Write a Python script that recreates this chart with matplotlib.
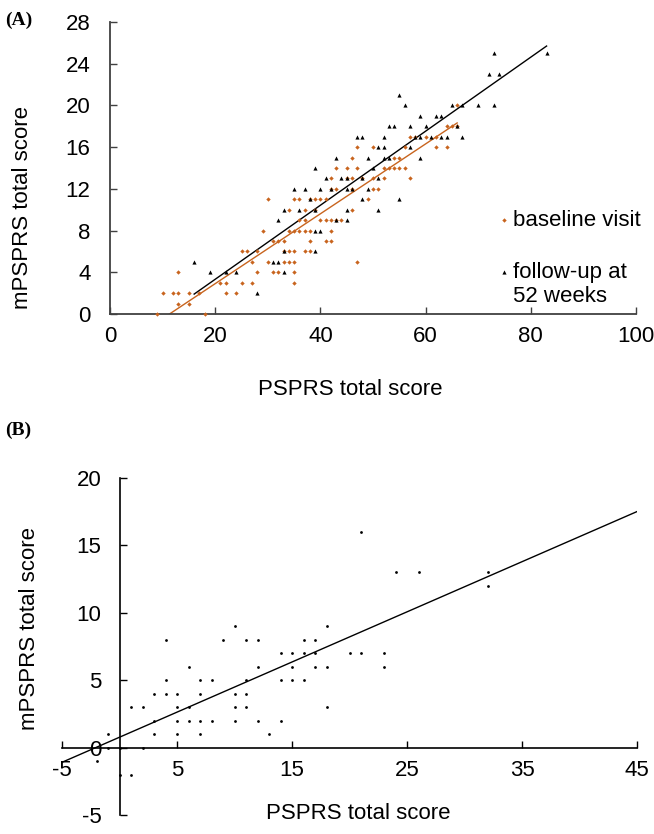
import matplotlib
matplotlib.use("Agg")
import matplotlib.pyplot as plt
import numpy as np

plt.rcParams['font.family'] = ['Liberation Sans', 'DejaVu Sans']
plt.rcParams['axes.unicode_minus'] = False

# ---- panel A data: PSPRS vs mPSPRS ----
base_x = [9, 10, 12, 13, 13, 13, 15, 15, 17, 18, 21, 22, 22, 24, 25, 26, 25, 27, 27, 28,
          28, 29, 30, 30, 31, 31, 32, 32, 33, 33, 34, 34, 34, 35, 35, 35, 35, 35, 34, 33,
          35, 36, 36, 36, 37, 37, 37, 38, 38, 37, 38, 38, 39, 39, 40, 41, 40, 41, 42, 42,
          41, 42, 42, 43, 42, 43, 45, 43, 44, 45, 46, 46, 46, 46, 47, 47, 47, 48, 49, 50,
          50, 50, 51, 52, 52, 53, 54, 54, 55, 55, 56, 56, 57, 57, 58, 60, 62, 62, 64, 64,
          65, 66, 66]
base_y = [0, 2, 2, 2, 4, 1, 2, 1, 2, 0, 3, 3, 2, 2, 6, 6, 3, 3, 5, 4,
          6, 8, 11, 5, 7, 4, 7, 4, 7, 5, 5, 10, 8, 8, 5, 4, 3, 6, 6, 6,
          11, 11, 9, 8, 8, 10, 9, 8, 7, 6, 6, 11, 11, 10, 11, 11, 9, 9, 9, 8,
          7, 7, 12, 12, 13, 14, 14, 9, 9, 13, 13, 12, 10, 15, 16, 14, 5, 13, 11, 16,
          13, 12, 12, 13, 14, 14, 15, 14, 14, 15, 14, 16, 17, 13, 17, 17, 17, 16, 16, 18,
          18, 20, 18]

follow_x = [16, 19, 22, 24, 28, 31, 32, 32, 33, 33, 33, 35, 36, 37, 38, 39, 39, 39, 39, 40,
            40, 41, 42, 43, 43, 44, 45, 45, 45, 45, 46, 47, 48, 48, 48, 49, 49, 50, 51, 51,
            51, 52, 52, 52, 53, 53, 54, 55, 55, 56, 57, 57, 58, 59, 59, 59, 60, 61, 62, 63,
            63, 64, 65, 66, 67, 67, 70, 72, 73, 73, 74, 83]
follow_y = [5, 4, 4, 4, 2, 5, 5, 9, 10, 4, 6, 12, 10, 12, 11, 14, 10, 8, 6, 12,
            8, 13, 12, 15, 9, 13, 13, 12, 10, 9, 12, 17, 17, 13, 11, 15, 12, 14, 16, 13,
            10, 16, 17, 15, 15, 18, 18, 21, 11, 20, 18, 16, 17, 17, 19, 15, 18, 17, 19, 19,
            17, 17, 20, 18, 20, 17, 20, 23, 25, 20, 23, 25]

# regression lines: slope, intercept
base_fit = [0.335, -3.79]
follow_fit = [0.355, -3.77]

# ---- panel B data: change scores ----
chg_x = [-1, -2, -1, 0, 0, 1, 1, 2, 2, 3, 3, 3, 4, 4, 4, 5, 5, 5, 5, 6,
         6, 6, 7, 7, 7, 7, 8, 8, 9, 10, 10, 10, 10, 11, 11, 11, 11, 12, 12, 12,
         13, 14, 14, 14, 15, 15, 15, 16, 16, 16, 17, 17, 17, 18, 18, 18, 20, 21, 21, 23,
         23, 24, 26, 32, 32]
chg_y = [1, -1, 0, 0, -2, -2, 3, 3, 0, 1, 2, 4, 4, 8, 5, 4, 3, 2, 1, 3,
         2, 6, 5, 4, 2, 1, 5, 2, 8, 9, 4, 3, 2, 8, 5, 4, 3, 8, 6, 2,
         1, 7, 5, 2, 7, 6, 5, 8, 7, 5, 8, 7, 6, 9, 6, 3, 7, 7, 16, 7,
         6, 13, 13, 13, 12]
chg_fit = [0.372, 0.77]

orange = '#c8641e'
fs = 16

fig = plt.figure(figsize=(6.54, 8.34), dpi=100)

# ---------- (A) ----------
axA = fig.add_axes([110/654, 1-314/834, 526/654, 292/834])
axA.scatter(base_x, base_y, marker='D', s=5, color=orange, lw=0, clip_on=False, zorder=3,
            label='baseline visit')
axA.scatter(follow_x, follow_y, marker='^', s=9, color='black', lw=0, clip_on=False, zorder=3,
            label='follow-up at\n52 weeks')
xb = np.array([min(base_x), max(base_x)])
axA.plot(xb, np.polyval(base_fit, xb), color=orange, lw=1)
xf = np.array([min(follow_x), max(follow_x)])
axA.plot(xf, np.polyval(follow_fit, xf), color='black', lw=1)

axA.set_xlim(0, 100)
axA.set_ylim(0, 28)
axA.set_xticks(range(0, 101, 20))
axA.set_yticks(range(0, 29, 4))
for s in ['top', 'right']:
    axA.spines[s].set_visible(False)
for s in ['left', 'bottom']:
    axA.spines[s].set_color('#404040')
    axA.spines[s].set_linewidth(1.3)
axA.tick_params(direction='in', length=5, width=1, colors='#404040', labelcolor='black',
                labelsize=fs)
axA.tick_params(axis='x', pad=9)
axA.tick_params(axis='y', pad=14)
axA.set_xlabel('PSPRS total score', fontsize=fs)
axA.xaxis.set_label_coords(0.456, -0.223)
axA.set_ylabel('mPSPRS total score', fontsize=fs)
axA.yaxis.set_label_coords(-0.146, 0.366)
leg = axA.legend(loc='upper left', bbox_to_anchor=(0.715, 0.394), frameon=False, fontsize=fs,
                 handlelength=0.6, handletextpad=0.1, labelspacing=1.4, borderpad=0)
# put the marker beside the first line of the two-line entry
for item in leg._legend_handle_box.get_children()[0].get_children():
    item.align = 'top'
fig.text(5/654, 1-20/834, '(A)', family='Liberation Serif', weight='bold', fontsize=14,
         va='center', ha='left')

# ---------- (B) ----------
axB = fig.add_axes([62/654, 1-815/834, 575/654, 337/834])
axB.scatter(chg_x, chg_y, marker='o', s=4, color='black', lw=0, clip_on=False, zorder=3)
xl = np.array([-5, 45])
axB.plot(xl, np.polyval(chg_fit, xl), color='black', lw=1)
axB.set_xlim(-5, 45)
axB.set_ylim(-5, 20)
axB.set_xticks(range(-5, 46, 10))
axB.set_yticks(range(-5, 21, 5))
axB.spines['left'].set_position(('data', 0))
axB.spines['bottom'].set_position(('data', 0))
for s in ['top', 'right']:
    axB.spines[s].set_visible(False)
for s in ['left', 'bottom']:
    axB.spines[s].set_linewidth(1.2)
axB.tick_params(direction='in', length=5, width=1, labelsize=fs)
axB.tick_params(axis='x', pad=9)
axB.tick_params(axis='y', pad=13)
axB.set_xlabel('PSPRS total score', fontsize=fs)
axB.xaxis.set_label_coords(0.515, 0.035)
axB.set_ylabel('mPSPRS total score', fontsize=fs)
axB.yaxis.set_label_coords(-0.038, 0.552)
fig.text(5/654, 1-430/834, '(B)', family='Liberation Serif', weight='bold', fontsize=14,
         va='center', ha='left')

fig.savefig('out.png', dpi=100)
